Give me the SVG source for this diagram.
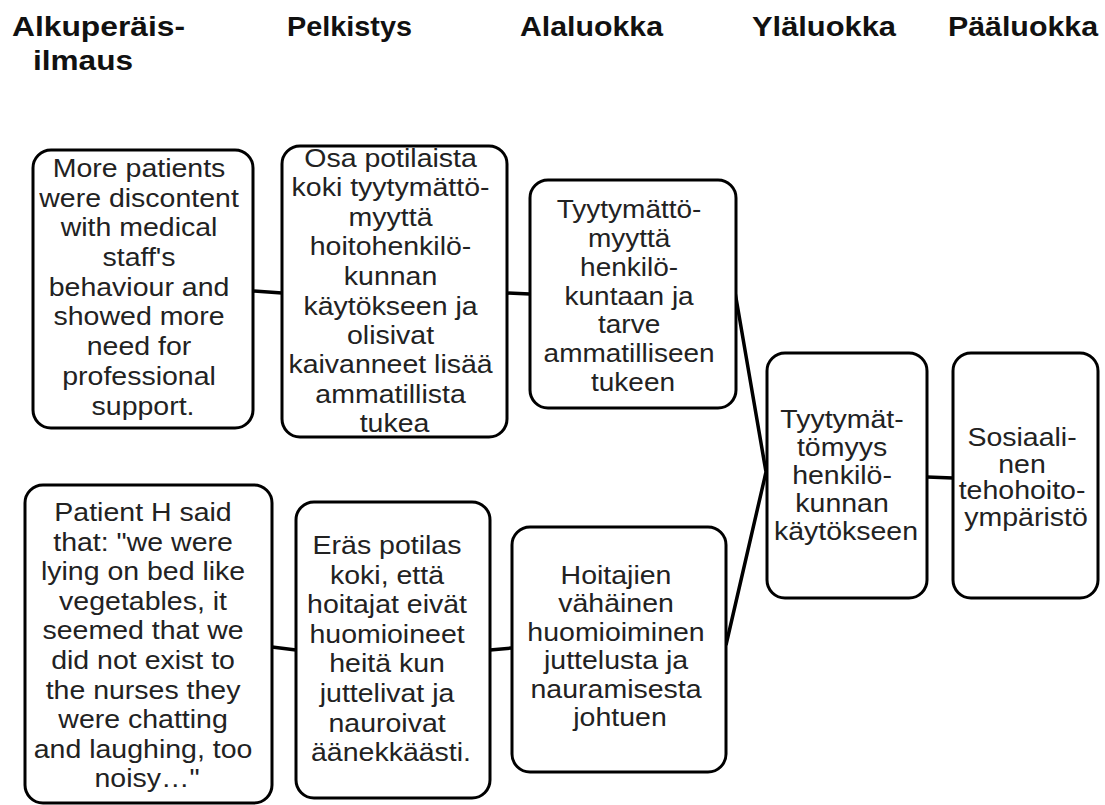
<svg xmlns="http://www.w3.org/2000/svg" width="1105" height="805" viewBox="0 0 1105 805">
<style>
.bg{fill:#ffffff}
.box{fill:#ffffff;stroke:#000;stroke-width:3}
.hdr{font-family:"Liberation Sans",Arial,sans-serif;font-weight:bold;font-size:27px;fill:#111}
.t{font-family:"Liberation Sans",Arial,sans-serif;font-size:25px;fill:#222;text-anchor:middle}
.conn{fill:none;stroke:#000;stroke-width:3.5;stroke-linejoin:miter}
</style>
<rect class="bg" x="0" y="0" width="1105" height="805"/>
<g id="headers">
<text class="hdr" x="12" y="36" textLength="173" lengthAdjust="spacingAndGlyphs">Alkuperäis-</text>
<text class="hdr" x="33" y="70" textLength="100" lengthAdjust="spacingAndGlyphs">ilmaus</text>
<text class="hdr" x="287" y="36" textLength="125" lengthAdjust="spacingAndGlyphs">Pelkistys</text>
<text class="hdr" x="520" y="36" textLength="143" lengthAdjust="spacingAndGlyphs">Alaluokka</text>
<text class="hdr" x="752" y="36" textLength="144" lengthAdjust="spacingAndGlyphs">Yläluokka</text>
<text class="hdr" x="948" y="36" textLength="150" lengthAdjust="spacingAndGlyphs">Pääluokka</text>
</g>
<g id="connectors">
<line class="conn" x1="253" y1="291" x2="282" y2="293"/>
<line class="conn" x1="507" y1="293" x2="530" y2="294"/>
<polyline class="conn" points="735,292 766,472 726,645"/>
<line class="conn" x1="927" y1="477" x2="953" y2="478"/>
<line class="conn" x1="272" y1="647" x2="296" y2="650"/>
<line class="conn" x1="490" y1="650" x2="512" y2="648"/>
</g>
<g id="node-orig1">
<rect class="box" x="33" y="150" width="220" height="278" rx="18"/>
<text class="t" transform="translate(143 0) scale(1.14 1)">
<tspan x="0" y="177">More patients</tspan>
<tspan x="0" y="206.7">were discontent</tspan>
<tspan x="0" y="236.4">with medical</tspan>
<tspan x="0" y="266.1">staff's</tspan>
<tspan x="0" y="295.8">behaviour and</tspan>
<tspan x="0" y="325.5">showed more</tspan>
<tspan x="0" y="355.2">need for</tspan>
<tspan x="0" y="384.9">professional</tspan>
<tspan x="0" y="414.6">support.</tspan>
</text>
</g>
<g id="node-pelk1">
<rect class="box" x="282" y="146" width="225" height="291" rx="18"/>
<text class="t" transform="translate(394.5 0) scale(1.14 1)">
<tspan x="0" y="167">Osa potilaista</tspan>
<tspan x="0" y="196.5">koki tyytymättö-</tspan>
<tspan x="0" y="226">myyttä</tspan>
<tspan x="0" y="255.5">hoitohenkilö-</tspan>
<tspan x="0" y="285">kunnan</tspan>
<tspan x="0" y="314.5">käytökseen ja</tspan>
<tspan x="0" y="344">olisivat</tspan>
<tspan x="0" y="373.5">kaivanneet lisää</tspan>
<tspan x="0" y="403">ammatillista</tspan>
<tspan x="0" y="432.5">tukea</tspan>
</text>
</g>
<g id="node-ala1">
<rect class="box" x="530" y="180" width="206" height="228" rx="18"/>
<text class="t" transform="translate(633 0) scale(1.12 1)">
<tspan x="0" y="218.5">Tyytymättö-</tspan>
<tspan x="0" y="247.2">myyttä</tspan>
<tspan x="0" y="275.9">henkilö-</tspan>
<tspan x="0" y="304.6">kuntaan ja</tspan>
<tspan x="0" y="333.3">tarve</tspan>
<tspan x="0" y="362">ammatilliseen</tspan>
<tspan x="0" y="390.7">tukeen</tspan>
</text>
</g>
<g id="node-yla">
<rect class="box" x="767" y="353" width="160" height="245" rx="18"/>
<text class="t" transform="translate(846 0) scale(1.14 1)">
<tspan x="0" y="428">Tyytymät-</tspan>
<tspan x="0" y="456">tömyys</tspan>
<tspan x="0" y="484">henkilö-</tspan>
<tspan x="0" y="512">kunnan</tspan>
<tspan x="0" y="540">käytökseen</tspan>
</text>
</g>
<g id="node-paa">
<rect class="box" x="953" y="353" width="145" height="245" rx="18"/>
<text class="t" transform="translate(1026 0) scale(1.14 1)">
<tspan x="0" y="446">Sosiaali-</tspan>
<tspan x="0" y="472.7">nen</tspan>
<tspan x="0" y="499.4">tehohoito-</tspan>
<tspan x="0" y="526">ympäristö</tspan>
</text>
</g>
<g id="node-orig2">
<rect class="box" x="25" y="485" width="247" height="318" rx="18"/>
<text class="t" transform="translate(147 0) scale(1.14 1)">
<tspan x="0" y="521">Patient H said</tspan>
<tspan x="0" y="550.6">that: "we were</tspan>
<tspan x="0" y="580.2">lying on bed like</tspan>
<tspan x="0" y="609.8">vegetables, it</tspan>
<tspan x="0" y="639.4">seemed that we</tspan>
<tspan x="0" y="669">did not exist to</tspan>
<tspan x="0" y="698.6">the nurses they</tspan>
<tspan x="0" y="728.2">were chatting</tspan>
<tspan x="0" y="757.8">and laughing, too</tspan>
<tspan x="0" y="787.4">noisy…"</tspan>
</text>
</g>
<g id="node-pelk2">
<rect class="box" x="296" y="502" width="194" height="296" rx="18"/>
<text class="t" transform="translate(391 0) scale(1.14 1)">
<tspan x="0" y="554">Eräs potilas</tspan>
<tspan x="0" y="583.6">koki, että</tspan>
<tspan x="0" y="613.2">hoitajat eivät</tspan>
<tspan x="0" y="642.8">huomioineet</tspan>
<tspan x="0" y="672.4">heitä kun</tspan>
<tspan x="0" y="702">juttelivat ja</tspan>
<tspan x="0" y="731.6">nauroivat</tspan>
<tspan x="0" y="761.2">äänekkäästi.</tspan>
</text>
</g>
<g id="node-ala2">
<rect class="box" x="512" y="527" width="214" height="245" rx="18"/>
<text class="t" transform="translate(620 0) scale(1.14 1)">
<tspan x="0" y="584">Hoitajien</tspan>
<tspan x="0" y="612.5">vähäinen</tspan>
<tspan x="0" y="641">huomioiminen</tspan>
<tspan x="0" y="669.5">juttelusta ja</tspan>
<tspan x="0" y="698">nauramisesta</tspan>
<tspan x="0" y="726.5">johtuen</tspan>
</text>
</g>
</svg>
